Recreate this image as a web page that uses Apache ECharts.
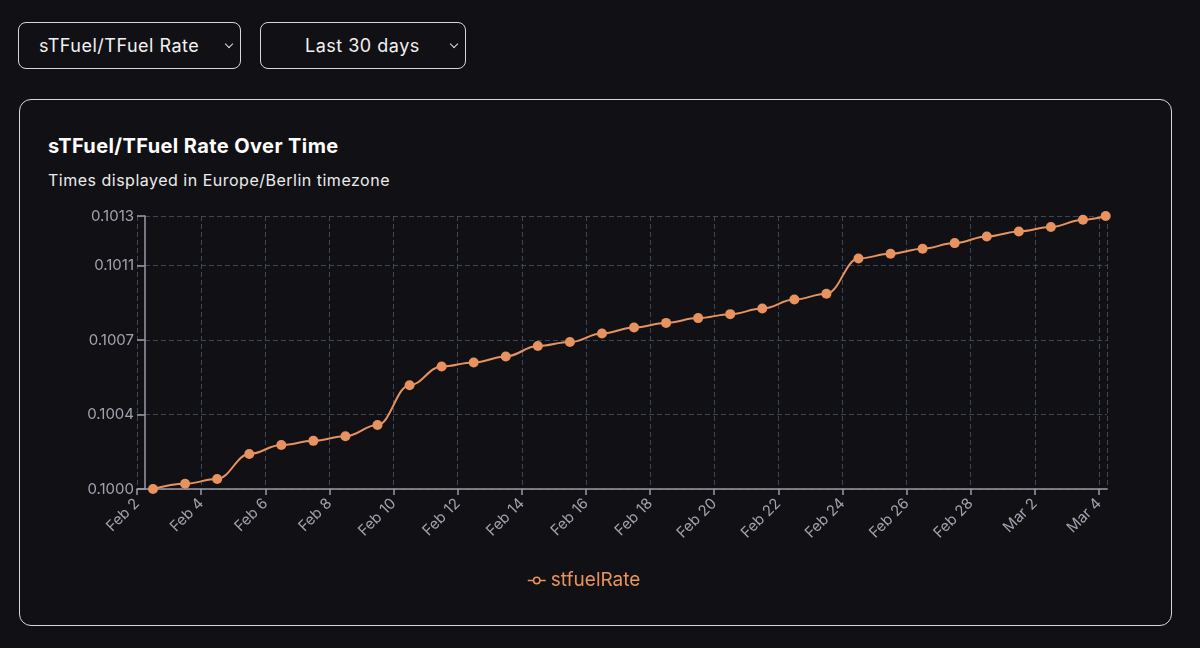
<!DOCTYPE html>
<html>
<head>
<meta charset="utf-8">
<script src="https://cdn.jsdelivr.net/npm/echarts@6/dist/echarts.min.js"></script>
<style>
  html, body { margin: 0; padding: 0; background: #111115; width: 1200px; height: 648px; overflow: hidden; font-family: Inter, "Noto Sans", sans-serif; }
  .sel { position: absolute; top: 22px; height: 47px; box-sizing: border-box; border: 1px solid #d6d6dc; border-radius: 8px; color: #f2f2f2; font-size: 18px; letter-spacing: 0.5px; line-height: 45px; white-space: nowrap; }
  .chev { position: absolute; top: 18px; width: 5px; height: 5px; border-right: 1.3px solid #e0e0e0; border-bottom: 1.3px solid #e0e0e0; transform: rotate(45deg); }
  #card { position: absolute; left: 19px; top: 99px; width: 1153px; height: 527px; box-sizing: border-box; border: 1px solid #d6d6dc; border-radius: 12px; }
  #title { position: absolute; left: 48px; top: 136px; font-size: 20px; line-height: 20px; font-weight: 700; letter-spacing: 0.4px; color: #ffffff; white-space: nowrap; }
  #subtitle { position: absolute; left: 48px; top: 172px; font-size: 16px; line-height: 16px; letter-spacing: 0.5px; color: #ececec; white-space: nowrap; }
  #chart { position: absolute; left: 0; top: 0; width: 1200px; height: 648px; }
</style>
</head>
<body>
<div class="sel" style="left:18px;width:223px;padding-left:20px;">sTFuel/TFuel Rate<span class="chev" style="left:207px"></span></div>
<div class="sel" style="left:260px;width:206px;padding-left:44px;">Last 30 days<span class="chev" style="left:190px"></span></div>
<div id="card"></div>
<div id="title">sTFuel/TFuel Rate Over Time</div>
<div id="subtitle">Times displayed in Europe/Berlin timezone</div>
<div id="chart"></div>
<script>
// ---- data ----
const seriesName = 'stfuelRate';
const timestamps = [
  '2025-02-02T12:00:00Z','2025-02-03T12:00:00Z','2025-02-04T12:00:00Z','2025-02-05T12:00:00Z',
  '2025-02-06T12:00:00Z','2025-02-07T12:00:00Z','2025-02-08T12:00:00Z','2025-02-09T12:00:00Z',
  '2025-02-10T12:00:00Z','2025-02-11T12:00:00Z','2025-02-12T12:00:00Z','2025-02-13T12:00:00Z',
  '2025-02-14T12:00:00Z','2025-02-15T12:00:00Z','2025-02-16T12:00:00Z','2025-02-17T12:00:00Z',
  '2025-02-18T12:00:00Z','2025-02-19T12:00:00Z','2025-02-20T12:00:00Z','2025-02-21T12:00:00Z',
  '2025-02-22T12:00:00Z','2025-02-23T12:00:00Z','2025-02-24T12:00:00Z','2025-02-25T12:00:00Z',
  '2025-02-26T12:00:00Z','2025-02-27T12:00:00Z','2025-02-28T12:00:00Z','2025-03-01T12:00:00Z',
  '2025-03-02T12:00:00Z','2025-03-03T12:00:00Z','2025-03-04T05:00:00Z'
];
const rates = [
  0.100000, 0.100025, 0.100048, 0.100168, 0.100211, 0.100231, 0.100253, 0.100307,
  0.100498, 0.100588, 0.100607, 0.100636, 0.100686, 0.100705, 0.100746, 0.100775,
  0.100797, 0.100820, 0.100839, 0.100866, 0.100909, 0.100937, 0.101106, 0.101129,
  0.101153, 0.101180, 0.101212, 0.101236, 0.101257, 0.101292, 0.101310
];
const axisStart = '2025-02-02T00:00:00Z';   // x axis origin (day 0)
const axisEnd = '2025-03-04T06:00:00Z';
const monthNames = ['Jan','Feb','Mar','Apr','May','Jun','Jul','Aug','Sep','Oct','Nov','Dec'];
const yMin = 0.1000, yMax = 0.10131, yStep = 0.1 / 280;

// ---- build ----
const DAY = 86400000;
const t0 = Date.parse(axisStart);
const toDay = s => (Date.parse(s) - t0) / DAY;
const points = timestamps.map((t, i) => [toDay(t), rates[i]]);

const ORANGE = '#e8935f';
const AXIS = '#9a9aa6';
const LABEL = '#a3a3b0';
const GRID = '#3a4756';

const chart = echarts.init(document.getElementById('chart'), null, { renderer: 'canvas' });
chart.setOption({
  backgroundColor: 'transparent',
  animation: false,
  textStyle: { fontFamily: 'Inter, "Noto Sans", sans-serif' },
  grid: { left: 137, right: 93, top: 216, bottom: 159, containLabel: false },
  legend: {
    data: [seriesName],
    top: 566,
    left: 522,
    itemWidth: 18,
    itemHeight: 8,
    itemGap: 10,
    textStyle: { color: ORANGE, fontSize: 19 },
    itemStyle: { color: '#111115', borderColor: ORANGE, borderWidth: 1.5 },
    lineStyle: { width: 1.5, color: ORANGE }
  },
  xAxis: {
    type: 'value',
    min: 0,
    max: toDay(axisEnd),
    interval: 2,
    axisLine: { show: true, lineStyle: { color: AXIS, width: 1.5 } },
    axisTick: { show: true, length: 6, lineStyle: { color: AXIS, width: 1.5 } },
    axisLabel: {
      rotate: 45, margin: 12, color: LABEL, fontSize: 15, showMaxLabel: false,
      formatter: v => {
        if (Math.abs(v - Math.round(v)) > 1e-6) return '';
        const d = new Date(t0 + Math.round(v) * DAY);
        return monthNames[d.getUTCMonth()] + ' ' + d.getUTCDate();
      }
    },
    splitLine: { show: true, lineStyle: { color: GRID, type: [5, 3], width: 1 } }
  },
  yAxis: {
    type: 'value',
    min: yMin,
    max: yMax,
    interval: yStep,
    offset: -8,
    axisLine: { show: true, lineStyle: { color: AXIS, width: 1.5 } },
    axisTick: { show: true, length: 8, lineStyle: { color: AXIS, width: 1.5 } },
    axisLabel: { margin: 11, color: LABEL, fontSize: 15, formatter: v => v.toFixed(4) },
    splitLine: { show: true, lineStyle: { color: GRID, type: [5, 3], width: 1 } }
  },
  series: [{
    name: seriesName,
    type: 'line',
    data: points,
    smooth: 0.4,
    smoothMonotone: 'x',
    symbol: 'circle',
    symbolSize: 10,
    showAllSymbol: true,
    lineStyle: { color: ORANGE, width: 2 },
    itemStyle: { color: ORANGE }
  }]
});
</script>
</body>
</html>
